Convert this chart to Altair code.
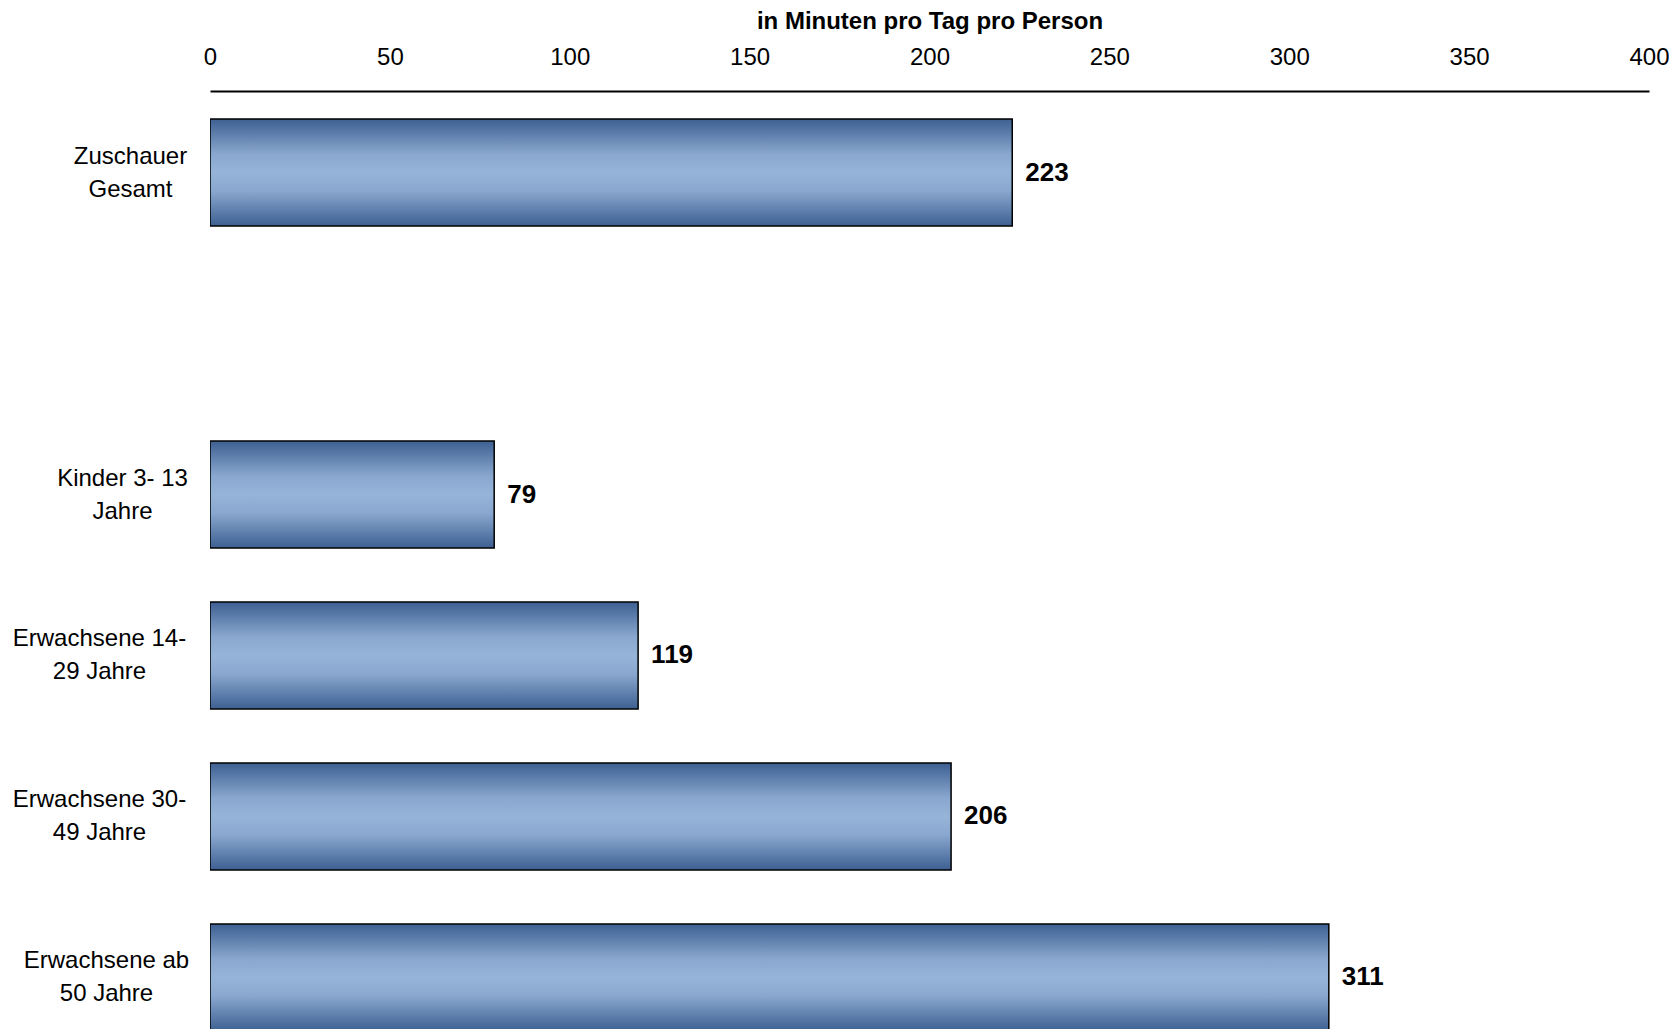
import altair as alt
import pandas as pd

# Average daily viewing time per person, by audience group
categories = [
    "Zuschauer\nGesamt",
    " ",
    "Kinder 3- 13\nJahre",
    "Erwachsene 14-\n29 Jahre",
    "Erwachsene 30-\n49 Jahre",
    "Erwachsene ab\n50 Jahre",
]
groups = [
    "Zuschauer\nGesamt",
    "Kinder 3- 13\nJahre",
    "Erwachsene 14-\n29 Jahre",
    "Erwachsene 30-\n49 Jahre",
    "Erwachsene ab\n50 Jahre",
]
minutes = [223, 79, 119, 206, 311]
x_ticks = [0, 50, 100, 150, 200, 250, 300, 350, 400]

df = pd.DataFrame({"gruppe": groups, "minuten": minutes})

FONT = "Liberation Sans"
DARK = "#3D6092"
MID = "#8AA8CF"
LIGHT = "#96B4D8"

bar_fill = alt.Gradient(
    gradient="linear",
    x1=0, x2=0, y1=0, y2=1,
    stops=[
        alt.GradientStop(color=DARK, offset=0),
        alt.GradientStop(color=MID, offset=0.33),
        alt.GradientStop(color=LIGHT, offset=0.5),
        alt.GradientStop(color=MID, offset=0.67),
        alt.GradientStop(color=DARK, offset=1),
    ],
)

# multi-line group labels sit in a right-flush block with centred lines
label_pad = {
    "condition": [
        {"test": "datum.value == 'Zuschauer\\nGesamt'", "value": 80},
        {"test": "datum.value == 'Kinder 3- 13\\nJahre'", "value": 88},
        {"test": "datum.value == 'Erwachsene ab\\n50 Jahre'", "value": 104},
    ],
    "value": 111,
}

y_enc = alt.Y(
    "gruppe:N",
    scale=alt.Scale(domain=categories, range=[0, 968],
                    paddingInner=0.335, paddingOuter=0.174),
    axis=alt.Axis(
        title=None, domain=False, ticks=False, tickSize=0, grid=False,
        labelFont=FONT, labelFontSize=24, labelColor="#000000",
        labelAlign="center", labelBaseline="middle", labelLineHeight=33,
        labelPadding=label_pad, labelOffset=-16,
        labelExpr="split(datum.value, '\\n')",
    ),
)

x_enc = alt.X(
    "minuten:Q",
    scale=alt.Scale(domain=[0, 400], nice=False),
    axis=alt.Axis(
        orient="top", values=x_ticks, grid=False, ticks=False, tickSize=0,
        domainColor="#000000", domainWidth=2,
        labelFont=FONT, labelFontSize=24, labelColor="#000000",
        labelPadding=22, labelFlush=False,
        title="in Minuten pro Tag pro Person",
        titleFont=FONT, titleFontSize=24, titleFontWeight="bold",
        titleColor="#000000", titlePadding=12,
    ),
)

bars = alt.Chart(df).mark_bar(
    color=bar_fill, stroke="#000000", strokeWidth=1.5, clip=True
).encode(x=x_enc, y=y_enc)

values = alt.Chart(df).mark_text(
    align="left", baseline="middle", dx=13,
    font=FONT, fontSize=26, fontWeight="bold", color="#000000", clip=True
).encode(
    x="minuten:Q",
    y=alt.Y("gruppe:N", scale=alt.Scale(domain=categories)),
    text="minuten:Q",
)

chart = (
    alt.layer(bars, values)
    .properties(
        width=1439,
        height=938,
        padding={"left": 210, "top": 91, "right": 30, "bottom": 0},
        autosize=alt.AutoSizeParams(type="none"),
        background="#ffffff",
    )
    .configure_view(stroke=None)
)

chart.save("out.html", embed_options={"renderer": "svg", "actions": False})
